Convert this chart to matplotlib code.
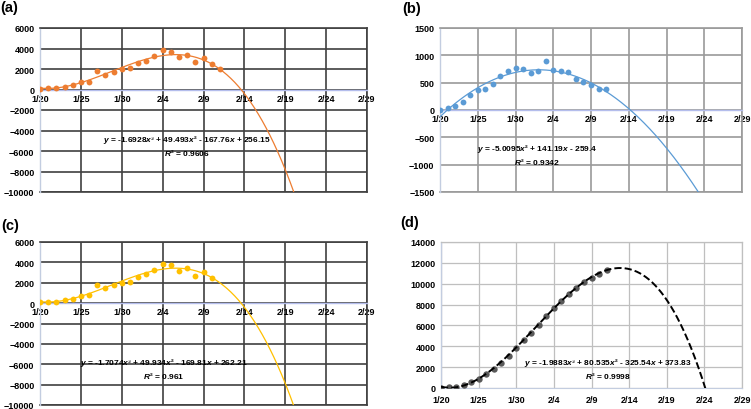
import numpy as np
import matplotlib
matplotlib.use('Agg')
from matplotlib import pyplot as plt

# dates 1/20 .. 2/29 (day 0 = 1/20)
tick_days = [0, 5, 10, 15, 20, 25, 30, 35, 40]
tick_labels = ['1/20', '1/25', '1/30', '2/4', '2/9', '2/14', '2/19', '2/24', '2/29']

# (a) 1/20 - 2/11
vals_a = [77, 149, 131, 259, 444, 688, 769, 1771, 1459, 1737, 1982, 2102,
          2590, 2829, 3235, 3887, 3694, 3143, 3399, 2656, 3062, 2478, 2015]
# (b) 1/20 - 2/11
vals_b = [5, 45, 65, 155, 275, 365, 390, 480, 620, 705, 765, 755,
          670, 720, 890, 735, 710, 700, 560, 510, 455, 385, 385]
# (c) 1/20 - 2/10
vals_c = [77, 149, 131, 259, 444, 688, 769, 1771, 1459, 1737, 1982, 2102,
          2590, 2829, 3235, 3887, 3694, 3143, 3399, 2656, 3062, 2478]
# (d) 1/20 - 2/11
vals_d = [5, 50, 115, 270, 545, 910, 1300, 1780, 2400, 3105, 3870, 4625,
          5295, 6015, 6905, 7640, 8350, 9050, 9610, 10120, 10575, 10960, 11345]

# trendline coefficients (highest power first), x = 1 at 1/20
coef_a = [-1.6928, 49.493, -167.76, 256.15]
coef_b = [-5.0095, 141.19, -259.4]
coef_c = [-1.7074, 49.934, -169.81, 262.21]
coef_d = [-1.9883, 80.535, -325.54, 373.83]

eq_a = ['$y$ = -1.6928$x$³ + 49.493$x$² - 167.76$x$ + 256.15', '$R$² = 0.9606']
eq_b = ['$y$ = -5.0095$x$² + 141.19$x$ - 259.4', '$R$² = 0.9342']
eq_c = ['$y$ = -1.7074$x$³ + 49.934$x$² - 169.81$x$ + 262.21', '$R$² = 0.961']
eq_d = ['$y$ = -1.9883$x$³ + 80.535$x$² - 325.54$x$ + 373.83', '$R$² = 0.9998']

plt.rcParams['font.family'] = ['Liberation Sans Narrow', 'Liberation Sans', 'DejaVu Sans']
plt.rcParams['font.weight'] = 'bold'
plt.rcParams['mathtext.fontset'] = 'custom'
plt.rcParams['mathtext.it'] = 'Liberation Sans:italic:bold'
plt.rcParams['mathtext.rm'] = 'Liberation Sans:bold'

fig = plt.figure(figsize=(7.51, 4.10), dpi=100)


def panel(rect, vals, coef, eq, eq_xy, color, ylim, ystep, gridc, mcolor=None,
          ls='-', lw=0.9, ms=4.2, axis_at_zero=True, lbl=None, lbl_xy=None):
    ax = fig.add_axes(rect)
    days = np.arange(len(vals))
    xx = np.linspace(0, 41, 600)
    ax.plot(xx, np.polyval(coef, xx + 1), color=('black' if ls != '-' else color),
            ls=ls, lw=lw, zorder=4)
    ax.plot(days, vals, 'o', color=mcolor or color, ms=ms, mec='none', zorder=3)
    ax.set_xlim(0, 40)
    ax.set_ylim(*ylim)
    ax.set_yticks(np.arange(ylim[0], ylim[1] + 1, ystep))
    ax.set_xticks(tick_days)
    ax.set_xticklabels(tick_labels)
    ax.grid(True, color=gridc, lw=1.2 if gridc != '#bfbfbf' else 0.9)
    ax.set_axisbelow(True)
    for s in ['top', 'right']:
        ax.spines[s].set_color(gridc)
        ax.spines[s].set_linewidth(1.2 if gridc != '#bfbfbf' else 0.9)
    ax.spines['left'].set_color('#c3cde0')
    ax.spines['left'].set_linewidth(1.0)
    if axis_at_zero:
        ax.spines['bottom'].set_position(('data', 0))
        ax.spines['bottom'].set_color('#b4bdec')
        ax.spines['bottom'].set_linewidth(1.0)
        ax.axhline(ylim[0], color=gridc, lw=1.2, clip_on=False, zorder=0)
        ax.tick_params(axis='x', length=0, pad=3)
    else:
        ax.spines['bottom'].set_color('#c3cde0')
        ax.tick_params(axis='x', length=0, pad=5)
    ax.tick_params(axis='y', length=0, pad=4)
    ax.tick_params(labelsize=6.5)
    for t in ax.get_xticklabels() + ax.get_yticklabels():
        t.set_fontweight('bold')
    ax.text(eq_xy[0], eq_xy[1], eq[0] + '\n' + eq[1], transform=fig.transFigure,
            ha='center', va='top', fontsize=6.0, fontweight='bold', linespacing=1.3,
            zorder=5)
    fig.text(lbl_xy[0], lbl_xy[1], lbl, fontsize=10.5, fontweight='bold',
             ha='left', va='top')
    return ax


W, H = 751.0, 410.0


def fr(x, y):
    return (x / W, 1 - y / H)


def rect(l, t, r, b):
    return [l / W, 1 - b / H, (r - l) / W, (b - t) / H]


panel(rect(40, 29, 367, 193), vals_a, coef_a, eq_a, fr(187, 134), '#ED7D31',
      (-10000, 6000), 2000, '#404040', lbl='(a)', lbl_xy=fr(0, 1))
panel(rect(440, 29, 742, 193), vals_b, coef_b, eq_b, fr(537, 143), '#5B9BD5',
      (-1500, 1500), 500, '#9a9a9a', lbl='(b)', lbl_xy=fr(402, 2))
panel(rect(40, 243, 367, 406), vals_c, coef_c, eq_c, fr(164, 357), '#FFC000',
      (-10000, 6000), 2000, '#404040', lbl='(c)', lbl_xy=fr(1, 219))
panel(rect(441, 243, 742, 389), vals_d, coef_d, eq_d, fr(608, 357), '#595959',
      (0, 14000), 2000, '#bfbfbf', mcolor='#595959', ls='--', lw=1.4, ms=4.6,
      axis_at_zero=False, lbl='(d)', lbl_xy=fr(400, 216))

fig.savefig('out.png', dpi=100)
